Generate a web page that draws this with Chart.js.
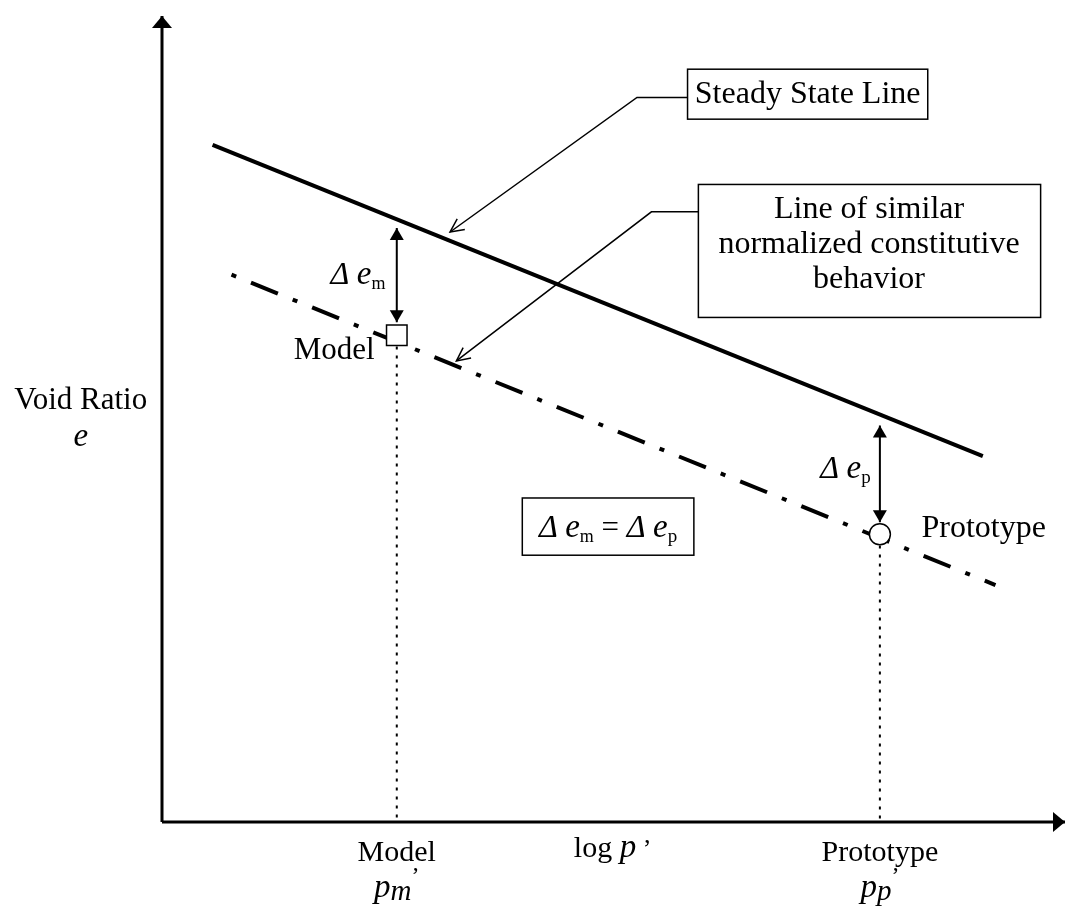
<!DOCTYPE html>
<html lang="en">
<head>
<meta charset="UTF-8">
<title>Void Ratio vs log p'</title>
<script src="https://cdn.jsdelivr.net/npm/chart.js"></script>
<style>
  body { margin: 0; background: #fff; }
  #wrap { width: 1081px; height: 911px; }
</style>
</head>
<body>
<div id="wrap"><canvas id="chart"></canvas></div>
<script>
// schematic units: x = log p' (0-100), y = void ratio e (0-100)
const steadyStateLine = [{x: 5.6, y: 84.0}, {x: 90.9, y: 45.4}];
const similarLine = [{x: 7.7, y: 67.9}, {x: 92.3, y: 29.4}];
const modelPoint = [{x: 26.0, y: 60.4}];
const prototypePoint = [{x: 79.5, y: 35.7}];
const deltaEm = [{x: 26.0, y: 73.7}, {x: 26.0, y: 62.0}];
const deltaEp = [{x: 79.5, y: 49.2}, {x: 79.5, y: 37.2}];
const modelDrop = [{x: 26.0, y: 59.0}, {x: 26.0, y: 0}];
const prototypeDrop = [{x: 79.5, y: 34.3}, {x: 79.5, y: 0}];
const yAxisLine = [{x: 0, y: 0}, {x: 0, y: 100}];
const xAxisLine = [{x: 0, y: 0}, {x: 100, y: 0}];
const steadyLeader = [{x: 58.2, y: 89.9}, {x: 52.6, y: 89.9}, {x: 31.9, y: 73.2}];
const similarLeader = [{x: 59.4, y: 75.7}, {x: 54.2, y: 75.7}, {x: 32.6, y: 57.2}];

const SERIF = "'Liberation Serif', 'Times New Roman', serif";
const F = (size, style) => (style ? style + ' ' : '') + size + 'px ' + SERIF;

// text boxes and labels (layout, in chart units)
const boxes = [
  {x1: 58.2, x2: 84.8, y1: 93.4, y2: 87.2},
  {x1: 59.4, x2: 97.3, y1: 79.1, y2: 62.6},
  {x1: 39.9, x2: 58.9, y1: 40.2, y2: 33.1}
];
const deltaM = [{t: 'Δ', font: F(32, 'italic')}, {t: ' ', font: F(30)}, {t: 'e', font: F(33, 'italic')}, {t: 'm', font: F(18), dy: 5}];
const deltaP = [{t: 'Δ', font: F(32, 'italic')}, {t: ' ', font: F(30)}, {t: 'e', font: F(33, 'italic')}, {t: 'p', font: F(19), dy: 5}];
const labels = [
  {parts: [{t: 'Steady State Line', font: F(32)}], x: 71.5, y: 89.2, align: 'center'},
  {parts: [{t: 'Line of similar', font: F(32)}], x: 78.3, y: 75.0, align: 'center'},
  {parts: [{t: 'normalized constitutive', font: F(32)}], x: 78.3, y: 70.6, align: 'center'},
  {parts: [{t: 'behavior', font: F(32)}], x: 78.3, y: 66.3, align: 'center'},
  {parts: deltaM.concat([{t: ' = ', font: F(31)}], deltaP), x: 49.4, y: 35.3, align: 'center'},
  {parts: deltaM, x: 24.75, y: 66.7, align: 'right'},
  {parts: [{t: 'Model', font: F(31)}], x: 23.55, y: 57.4, align: 'right'},
  {parts: deltaP, x: 72.9, y: 42.7, align: 'left'},
  {parts: [{t: 'Prototype', font: F(32)}], x: 84.1, y: 35.3, align: 'left'},
  {parts: [{t: 'Void Ratio', font: F(31)}], x: -9.0, y: 51.3, align: 'center'},
  {parts: [{t: 'e', font: F(33, 'italic')}], x: -9.0, y: 46.7, align: 'center'},
  {parts: [{t: 'Model', font: F(30)}], x: 26.0, y: -4.9, align: 'center'},
  {parts: [{t: 'p', font: F(33, 'italic')}, {t: 'm', font: F(29, 'italic'), dy: 3}, {t: '’', font: F(24), dy: -14}], x: 26.0, y: -9.3, align: 'center'},
  {parts: [{t: 'log ', font: F(30)}, {t: 'p', font: F(33, 'italic')}, {t: ' ’', font: F(26)}], x: 49.9, y: -4.4, align: 'center'},
  {parts: [{t: 'Prototype', font: F(30)}], x: 79.5, y: -4.9, align: 'center'},
  {parts: [{t: 'p', font: F(33, 'italic')}, {t: 'p', font: F(29, 'italic'), dy: 3}, {t: '’', font: F(24), dy: -14}], x: 79.5, y: -9.3, align: 'center'}
];

function drawRich(ctx, parts, x, y, align) {
  let w = 0;
  parts.forEach(p => { ctx.font = p.font; w += ctx.measureText(p.t).width; });
  let cx = align === 'center' ? x - w / 2 : align === 'right' ? x - w : x;
  parts.forEach(p => {
    ctx.font = p.font;
    ctx.fillText(p.t, cx, y + (p.dy || 0));
    cx += ctx.measureText(p.t).width;
  });
}

function filledHead(ctx, from, to, len, half) {
  const a = Math.atan2(to.y - from.y, to.x - from.x);
  ctx.beginPath();
  ctx.moveTo(to.x, to.y);
  ctx.lineTo(to.x - len * Math.cos(a) + half * Math.sin(a), to.y - len * Math.sin(a) - half * Math.cos(a));
  ctx.lineTo(to.x - len * Math.cos(a) - half * Math.sin(a), to.y - len * Math.sin(a) + half * Math.cos(a));
  ctx.closePath();
  ctx.fill();
}

function openHead(ctx, from, to, len, ang) {
  const a = Math.atan2(to.y - from.y, to.x - from.x);
  ctx.beginPath();
  ctx.moveTo(to.x - len * Math.cos(a - ang), to.y - len * Math.sin(a - ang));
  ctx.lineTo(to.x, to.y);
  ctx.lineTo(to.x - len * Math.cos(a + ang), to.y - len * Math.sin(a + ang));
  ctx.stroke();
}

const annotate = {
  id: 'annotate',
  afterDatasetsDraw(chart) {
    const ctx = chart.ctx;
    const xs = chart.scales.x, ys = chart.scales.y;
    ctx.save();
    ctx.fillStyle = '#000';
    ctx.strokeStyle = '#000';

    // arrow heads at dataset ends
    chart.data.datasets.forEach((ds, i) => {
      if (!ds.heads) return;
      const pts = chart.getDatasetMeta(i).data.map(p => ({x: p.x, y: p.y}));
      const n = pts.length;
      if (ds.heads.type === 'open') {
        ctx.lineWidth = 1.5;
        openHead(ctx, pts[n - 2], pts[n - 1], 15, 0.45);
      } else {
        if (ds.heads.end) filledHead(ctx, pts[n - 2], pts[n - 1], ds.heads.len, ds.heads.half);
        if (ds.heads.start) filledHead(ctx, pts[1], pts[0], ds.heads.len, ds.heads.half);
      }
    });

    // boxes
    ctx.lineWidth = 1.5;
    boxes.forEach(b => {
      const x1 = xs.getPixelForValue(b.x1), x2 = xs.getPixelForValue(b.x2);
      const y1 = ys.getPixelForValue(b.y1), y2 = ys.getPixelForValue(b.y2);
      ctx.fillStyle = '#fff';
      ctx.fillRect(x1, y1, x2 - x1, y2 - y1);
      ctx.strokeRect(x1, y1, x2 - x1, y2 - y1);
    });

    ctx.fillStyle = '#000';
    ctx.textBaseline = 'alphabetic';
    ctx.textAlign = 'left';
    labels.forEach(l => {
      drawRich(ctx, l.parts, xs.getPixelForValue(l.x), ys.getPixelForValue(l.y), l.align);
    });
    ctx.restore();
  }
};

const line = (data, extra) => Object.assign({
  data: data, showLine: true, borderColor: '#000', backgroundColor: '#000',
  pointRadius: 0, borderWidth: 1.5, clip: false
}, extra);

new Chart(document.getElementById('chart'), {
  type: 'scatter',
  data: {
    datasets: [
      line(modelPoint, {showLine: false, pointStyle: 'rect', pointRadius: 14.5, pointBackgroundColor: '#fff', pointBorderColor: '#000', pointBorderWidth: 1.5}),
      line(prototypePoint, {showLine: false, pointStyle: 'circle', pointRadius: 10.5, pointBackgroundColor: '#fff', pointBorderColor: '#000', pointBorderWidth: 1.5}),
      line(steadyStateLine, {borderWidth: 4}),
      line(similarLine, {borderWidth: 4, borderDash: [5, 16, 29, 16]}),
      line(deltaEm, {borderWidth: 2, heads: {start: true, end: true, len: 12, half: 7}}),
      line(deltaEp, {borderWidth: 2, heads: {start: true, end: true, len: 12, half: 7}}),
      line(modelDrop, {borderWidth: 2, borderDash: [3, 6]}),
      line(prototypeDrop, {borderWidth: 2, borderDash: [3, 6]}),
      line(steadyLeader, {heads: {type: 'open'}}),
      line(similarLeader, {heads: {type: 'open'}}),
      line(yAxisLine, {borderWidth: 3, heads: {end: true, len: 12, half: 10}}),
      line(xAxisLine, {borderWidth: 3, heads: {end: true, len: 12, half: 10}})
    ]
  },
  options: {
    responsive: true,
    maintainAspectRatio: false,
    animation: false,
    layout: {padding: {left: 162, right: 6, top: 9, bottom: 89}},
    scales: {
      x: {type: 'linear', min: 0, max: 100, display: false},
      y: {type: 'linear', min: 0, max: 100, display: false}
    },
    plugins: {legend: {display: false}, tooltip: {enabled: false}}
  },
  plugins: [annotate]
});
</script>
</body>
</html>
